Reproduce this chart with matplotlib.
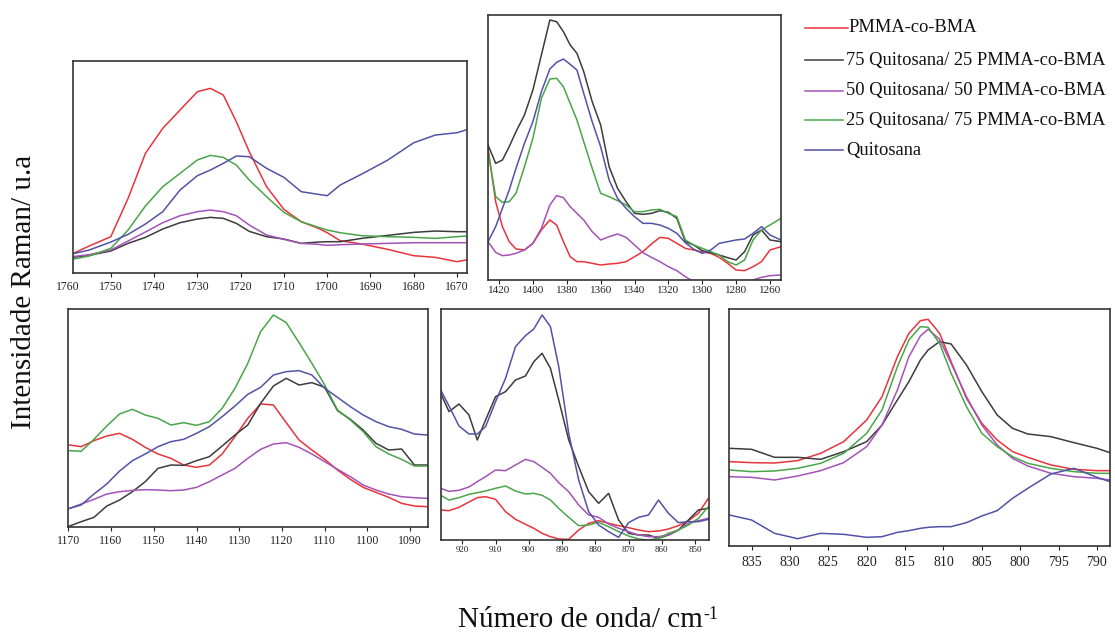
import matplotlib
matplotlib.use("Agg")
import matplotlib.pyplot as plt
from matplotlib.lines import Line2D

plt.rcParams['font.family'] = ['Liberation Serif', 'DejaVu Serif']

# ---------------- data (arbitrary Raman intensity units) ----------------
series_names = ["PMMA-co-BMA", "75 Quitosana/ 25 PMMA-co-BMA",
                "50 Quitosana/ 50 PMMA-co-BMA", "25 Quitosana/ 75 PMMA-co-BMA",
                "Quitosana"]

# Panel 1 : 1760-1668 cm-1
p1_x = [1759, 1755, 1750, 1746, 1742, 1738, 1734, 1730, 1727, 1724, 1721, 1718,
        1714, 1710, 1706, 1702, 1700, 1697, 1692, 1686, 1680, 1675, 1670, 1668]
p1_pmma = [56, 80, 108, 223, 358, 433, 488, 543, 553, 533, 453, 363,
           258, 190, 153, 133, 120, 96, 86, 70, 51, 46, 33, 38]
p1_q75 = [46, 52, 65, 88, 106, 131, 150, 161, 166, 163, 148, 124,
          108, 101, 88, 92, 93, 93, 103, 112, 121, 125, 123, 123]
p1_q50 = [48, 54, 68, 95, 122, 150, 171, 183, 188, 183, 171, 143,
          113, 100, 88, 85, 82, 84, 86, 88, 90, 90, 90, 90]
p1_q25 = [40, 50, 73, 128, 200, 258, 298, 338, 352, 346, 323, 278,
          228, 181, 153, 136, 128, 120, 111, 108, 106, 103, 108, 110]
p1_quit = [56, 68, 92, 115, 146, 183, 248, 291, 308, 328, 350, 348,
           313, 286, 243, 235, 231, 263, 296, 338, 390, 413, 420, 428]

# Panel 2 : 1427-1253 cm-1
p2_x = [1426.5, 1422, 1418, 1414, 1410, 1405, 1400, 1395, 1390, 1386, 1382, 1378,
        1374, 1370, 1365, 1360, 1355, 1350, 1345, 1340, 1335, 1330, 1325, 1320,
        1315, 1310, 1305, 1300, 1295, 1290, 1285, 1280, 1275, 1270, 1265, 1260, 1253.5]
p2_pmma = [395, 235, 160, 115, 93, 90, 110, 150, 180, 165, 115, 70, 55, 55, 50,
           45, 48, 50, 55, 70, 85, 108, 128, 125, 110, 95, 90, 84, 80, 68, 50, 30,
           28, 40, 55, 90, 100]
p2_q75 = [405, 350, 360, 400, 445, 495, 570, 675, 780, 775, 745, 705, 680, 625, 535,
          465, 340, 275, 235, 200, 197, 200, 208, 203, 185, 115, 105, 88, 82, 75, 67,
          60, 85, 135, 150, 120, 115]
p2_q50 = [115, 83, 73, 75, 80, 90, 110, 155, 225, 253, 247, 220, 200, 180, 145,
          120, 130, 138, 128, 105, 82, 68, 55, 40, 28, 10, -5, -20, -25, -25, -23,
          -20, -10, 0, 8, 13, 15]
p2_q25 = [385, 250, 233, 235, 260, 340, 425, 545, 603, 605, 580, 530, 480, 415, 335,
          260, 250, 238, 225, 205, 205, 210, 212, 200, 190, 120, 105, 95, 85, 75, 55,
          45, 60, 120, 150, 165, 185]
p2_quit = [115, 160, 215, 270, 335, 410, 475, 565, 633, 653, 663, 647, 630, 560, 475,
           400, 300, 245, 215, 190, 170, 170, 165, 155, 140, 112, 92, 80, 90, 110, 115,
           120, 123, 140, 160, 135, 120]

# Panel 3 : 1170-1086 cm-1
p3_x = [1169.7, 1167, 1164, 1161, 1158, 1155, 1152, 1149, 1146, 1143, 1140, 1137,
        1134, 1131, 1128, 1125, 1122, 1119, 1116, 1113, 1110, 1107, 1104, 1101,
        1098, 1095, 1092, 1089, 1086]
p3_pmma = [245, 240, 258, 272, 280, 262, 238, 218, 205, 185, 178, 185, 218, 270, 325,
           368, 365, 312, 260, 230, 202, 170, 142, 118, 103, 88, 70, 62, 60]
p3_q75 = [2, 15, 28, 62, 80, 105, 135, 175, 185, 184, 198, 210, 242, 275, 305, 370,
          422, 445, 425, 432, 418, 348, 322, 290, 250, 230, 233, 185, 185]
p3_q50 = [55, 68, 82, 98, 105, 109, 111, 110, 108, 110, 118, 135, 155, 175, 205, 232,
          248, 252, 238, 218, 195, 172, 150, 125, 110, 98, 90, 87, 85]
p3_q25 = [228, 226, 262, 302, 338, 352, 335, 325, 305, 312, 304, 315, 355, 415, 490,
          585, 635, 612, 552, 490, 425, 350, 320, 285, 240, 218, 202, 182, 182]
p3_quit = [55, 65, 98, 128, 167, 198, 218, 240, 255, 262, 280, 300, 330, 362, 397,
           418, 455, 465, 468, 455, 415, 388, 360, 335, 315, 300, 292, 278, 275]

# Panel 4 : 926-846 cm-1
p4_x = [926.5, 924, 921, 918, 915.5, 913, 910, 907, 904, 901, 898.5, 896, 893.5, 891,
        888, 885, 882, 879, 876, 873, 870, 867, 864, 861, 858, 855, 852, 849, 846]
p4_pmma = [90, 88, 98, 114, 127, 130, 122, 85, 62, 47, 35, 20, 10, 3, 2, 30, 50, 58,
           50, 43, 37, 30, 25, 27, 33, 43, 58, 80, 125]
p4_q75 = [440, 385, 408, 375, 300, 360, 430, 445, 480, 492, 535, 560, 515, 420, 300,
          220, 145, 110, 140, 60, 20, 15, 15, 5, 15, 30, 60, 90, 95]
p4_q50 = [155, 146, 149, 159, 175, 190, 210, 208, 225, 242, 235, 218, 200, 172, 145,
          105, 75, 68, 48, 35, 25, 15, 10, 10, 15, 30, 50, 58, 65]
p4_q25 = [134, 120, 127, 137, 142, 147, 155, 162, 147, 138, 140, 134, 120, 95, 68, 43,
          45, 53, 40, 25, 12, 3, 0, 5, 20, 30, 45, 65, 100]
p4_quit = [450, 402, 342, 318, 318, 340, 415, 485, 580, 613, 633, 675, 640, 520, 320,
           180, 85, 45, 25, 8, 52, 68, 75, 120, 80, 52, 55, 55, 62]

# Panel 5 : 838-788 cm-1
p5_x = [837.9, 835, 832, 829, 826, 823, 820, 818, 816, 814.5, 813, 812, 810.5, 809,
        807, 805, 803, 801, 799, 796, 793, 790, 788.3]
p5_pmma = [253, 250, 249, 256, 278, 313, 378, 448, 568, 638, 676, 680, 638, 553, 443,
           368, 318, 283, 266, 243, 230, 226, 226]
p5_q75 = [293, 290, 266, 266, 260, 283, 313, 363, 438, 493, 558, 588, 613, 606, 543,
          463, 393, 353, 336, 328, 310, 293, 280]
p5_q50 = [208, 206, 198, 210, 226, 250, 298, 363, 468, 568, 630, 650, 620, 548, 448,
          363, 303, 263, 240, 218, 208, 203, 198]
p5_q25 = [228, 223, 225, 233, 248, 278, 338, 408, 538, 618, 658, 656, 608, 518, 418,
          338, 298, 268, 248, 233, 223, 218, 218]
p5_quit = [93, 78, 38, 22, 38, 35, 26, 28, 41, 46, 53, 56, 58, 58, 70, 90, 106, 143,
           173, 216, 233, 206, 193]

p1_ticks = [1750, 1740, 1730, 1720, 1710, 1700, 1690, 1680, 1670]
p2_ticks = [1420, 1400, 1380, 1360, 1340, 1320, 1300, 1280, 1260]
p3_ticks = [1170, 1160, 1150, 1140, 1130, 1120, 1110, 1100, 1090]
p4_ticks = [920, 910, 900, 890, 880, 870, 860, 850]
p5_ticks = [835, 830, 825, 820, 815, 810, 805, 800, 795, 790]

# ---------------- style ----------------
colors = ['#e8343c', '#3c3c3c', '#a552b8', '#4aa548', '#5252a6']
W, H = 1115, 637
fig = plt.figure(figsize=(W / 100, H / 100), dpi=100)


def make_ax(l, t, r, b, x, ys, xlim, ylim, ticks, fs, pad):
    ax = fig.add_axes([l / W, 1 - b / H, (r - l) / W, (b - t) / H])
    for y, c in zip(ys, colors):
        ax.plot(x, y, color=c, lw=1.1)
    ax.set_xlim(*xlim)
    ax.set_ylim(*ylim)
    ax.set_xticks(ticks)
    ax.set_xticklabels([str(t) for t in ticks])
    ax.set_yticks([])
    ax.tick_params(axis='x', direction='out', length=3, width=0.8,
                   labelsize=fs, pad=pad, colors='#222222')
    for s in ax.spines.values():
        s.set_color('#333333')
        s.set_linewidth(1.2)
    return ax


ax1 = make_ax(72.7, 60.7, 467, 272.7, p1_x,
              [p1_pmma, p1_q75, p1_q50, p1_q25, p1_quit],
              (1758.8, 1667.7), (0, 636), p1_ticks, 8.5, 3)
ax1.annotate("1760", xy=(1760, 0), xycoords=ax1.get_xaxis_transform(),
             xytext=(0, -6), textcoords='offset points', ha='center', va='top',
             fontsize=8.5, color='#222222', annotation_clip=False)
ax2 = make_ax(487.7, 15, 781, 280, p2_x,
              [p2_pmma, p2_q75, p2_q50, p2_q25, p2_quit],
              (1426.7, 1253.5), (0, 795), p2_ticks, 8, 1.5)
ax3 = make_ax(68.3, 309.3, 427.7, 526.7, p3_x,
              [p3_pmma, p3_q75, p3_q50, p3_q25, p3_quit],
              (1170, 1085.9), (0, 652), p3_ticks, 8.5, 3)
ax4 = make_ax(440.7, 309.3, 708.7, 540, p4_x,
              [p4_pmma, p4_q75, p4_q50, p4_q25, p4_quit],
              (926.5, 845.9), (0, 692), p4_ticks, 6.5, 1.5)
ax5 = make_ax(729.3, 309.3, 1110, 546, p5_x,
              [p5_pmma, p5_q75, p5_q50, p5_q25, p5_quit],
              (837.9, 788.3), (0, 710), p5_ticks, 10, 4)

# ---------------- legend (drawn in figure pixels) ----------------
leg_y = [28, 60, 91, 120, 150]
for i, (name, c, yy) in enumerate(zip(series_names, colors, leg_y)):
    x_end = 848 if i == 0 else 843
    fig.add_artist(Line2D([805 / W, x_end / W], [1 - yy / H, 1 - yy / H],
                          color=c, lw=1.1, transform=fig.transFigure))
    fig.text((x_end + (0 if i == 0 else 3)) / W, 1 - yy / H, name,
             fontsize=13.3, ha='left', va='center', color='#111111')

# ---------------- axis labels ----------------
fig.text(24 / W, 1 - 292 / H, "Intensidade Raman/ u.a", rotation=90,
         fontsize=21, ha='center', va='center', color='#111111')
xl = fig.text(580 / W, 1 - 620 / H, "Número de onda/ cm",
              fontsize=21, ha='center', va='center', color='#111111')
fig.canvas.draw()
bb = xl.get_window_extent()
fig.text((bb.x1 + 1) / W, (bb.y1 + 1) / H, "-1", fontsize=13,
         ha='left', va='top', color='#111111')

fig.savefig("out.png", dpi=100)
